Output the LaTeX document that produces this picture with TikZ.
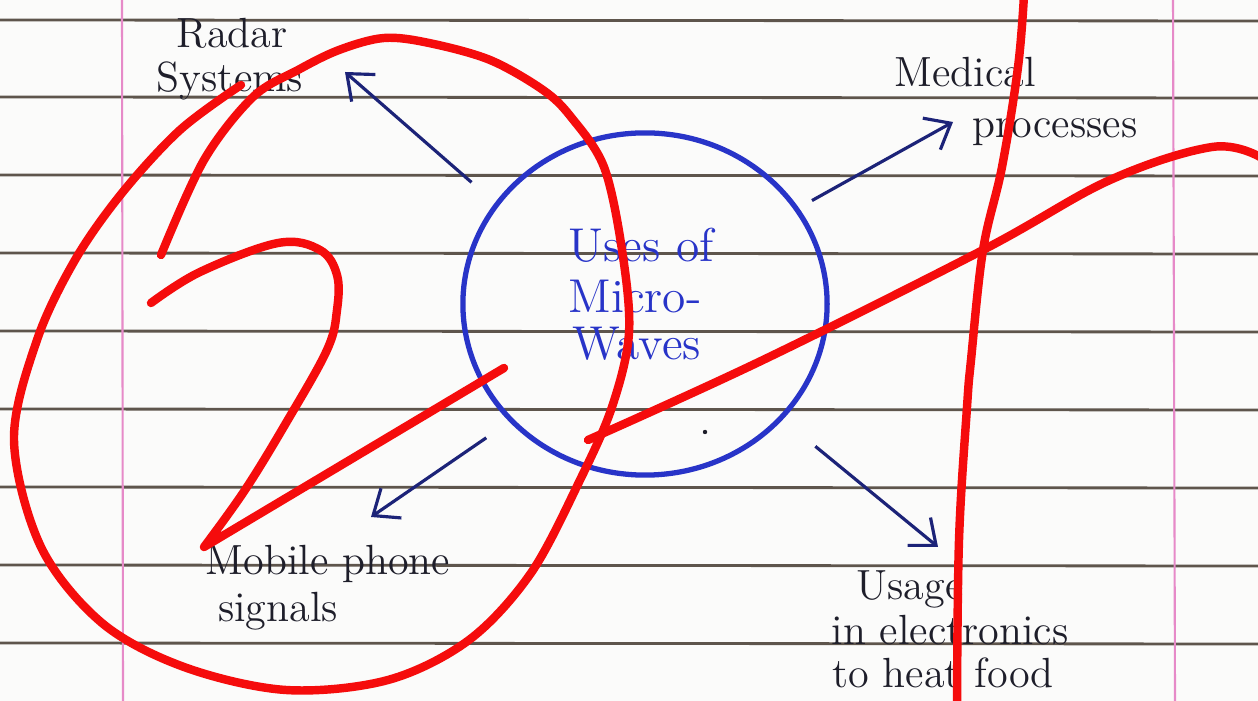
\documentclass[tikz,border=0pt]{standalone}
\usepackage{tikz}
\usetikzlibrary{
    positioning,
    arrows.meta,
    shapes.geometric
}
\definecolor{paper}{HTML}{FBFBFA}
\definecolor{rule}{HTML}{5E554C}
\definecolor{margin}{HTML}{E68AC8}
\definecolor{ink}{HTML}{1E1E2A}
\definecolor{navy}{HTML}{1C2378}
\definecolor{penblue}{HTML}{2834C8}
\definecolor{marker}{HTML}{F50C0C}
\tikzset{
    >={Straight Barb[length=2.2mm,width=3.6mm]},
    ruling/.style={rule, line width=0.8pt},
    marginline/.style={margin, line width=0.6pt},
    hub/.style={
        ellipse, draw=penblue, line width=1.5pt,
        minimum width=3.64cm, minimum height=3.42cm
    },
    hubtext/.style={text=penblue, font=\fontsize{13.5}{13.5}\selectfont, anchor=base, inner sep=0pt},
    lbl/.style={text=ink, font=\fontsize{12}{12}\selectfont, anchor=base, inner sep=0pt},
    arr/.style={->, navy, line width=0.9pt},
    redmark/.style={marker, line width=2.4pt, line cap=round, line join=round}
}

\begin{document}
\begin{tikzpicture}[
    x=0.01cm, y=-0.01cm
]

    % Hoja
    \fill[paper] (0,0) rectangle (1258,701);
    \useasboundingbox (0,0) rectangle (1258,701);
    \foreach \yy in {20,97,175,253,331,409,487,565,643}
        \draw[ruling] (0,\yy) -- (1258,\yy+1);
    \draw[marginline] (122,0) -- (123,701);
    \draw[marginline] (1173,0) -- (1175,701);

    % Nodos
    \node[hub] (uses) at (645,304) {};
    \node[hubtext] (uses1) at (641,262) {Uses of};
    \node[hubtext] (uses2) at (635,313) {Micro-};
    \node[hubtext] (uses3) at (637,360) {Waves};

    \node[lbl] (radar1)  at (232,48)  {Radar};
    \node[lbl] (radar2)  at (230,92)  {Systems};
    \node[lbl] (med1)    at (965,87)  {Medical};
    \node[lbl] (med2)    at (1055,138) {processes};
    \node[lbl] (mobile1) at (328,575) {Mobile phone};
    \node[lbl] (mobile2) at (278,622) {signals};
    \node[lbl] (heat1)   at (910,600) {Usage};
    \node[lbl] (heat2)   at (950,645) {in electronics};
    \node[lbl] (heat3)   at (943,688) {to heat food};

    \coordinate (radar-tip)  at (345,72);
    \coordinate (med-tip)    at (953,122);
    \coordinate (mobile-tip) at (371,517);
    \coordinate (heat-tip)   at (938,547);

    % Flechas
    \draw[arr, shorten <=3.1mm] (uses.146) -- (radar-tip);
    \draw[arr, shorten <=1.5mm] (uses.32)  -- (med-tip);
    \draw[arr, shorten <=2.8mm] (uses.221) -- (mobile-tip);
    \draw[arr, shorten <=4.2mm] (uses.320) -- (heat-tip);

    \fill[ink] (705,432) circle (2.2);

    % Correccion
    \draw[redmark] plot[smooth, tension=0.55] coordinates {
        (161,255) (204,160) (253,97) (298,70) (339,50) (384,38)
        (429,43) (490,60) (543,90) (571,117) (604,167) (622,250)
        (629,333) (612,407) (580,480) (531,573) (469,640) (388,680)
        (286,690) (184,667) (102,623) (41,547) (14,440) (37,340)
        (75,260) (122,193) (180,130) (241,85)
    };
    \draw[redmark] plot[smooth, tension=0.6] coordinates {
        (151,303) (200,272) (278,243) (320,250) (337,275) (337,310)
        (327,350) (286,423) (245,490) (204,547)
    } -- (504,368);
    \draw[redmark] plot[smooth, tension=0.6] coordinates {
        (588,440) (763,360) (983,250) (1110,180) (1212,147) (1260,157)
    };
    \draw[redmark] plot[smooth, tension=0.6] coordinates {
        (1024,-5) (1018,67) (1002,167) (983,250) (971,360) (967,407)
        (959,540) (957,706)
    };

\end{tikzpicture}
\end{document}
